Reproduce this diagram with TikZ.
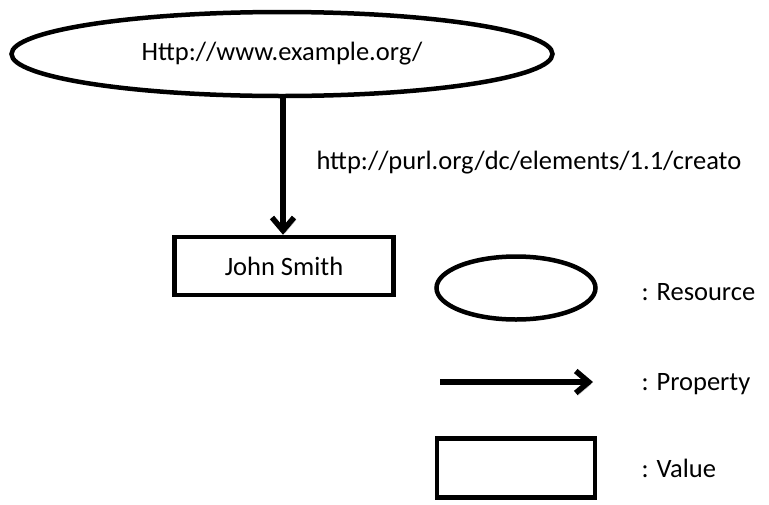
\documentclass[tikz,border=0pt]{standalone}
\usepackage{fontspec}
\setmainfont{Carlito}
\usetikzlibrary{shapes.geometric,arrows.meta,positioning}
\tikzset{
  resource/.style={draw, ellipse, line width=4.5pt, inner sep=0pt},
  valuebox/.style={draw, rectangle, line width=4.5pt, inner sep=0pt},
  prop/.style={line width=5.5pt, -{Straight Barb[length=13pt,width=22pt,line width=5.5pt]},
    preaction={draw=gray!55, transform canvas={shift={(2pt,-2.5pt)}}}},
}
\begin{document}
\begin{tikzpicture}[x=1pt,y=-1pt,font=\fontsize{26.5pt}{30pt}\selectfont]
            \useasboundingbox (0,0) rectangle (769,504);
            % Graph
            \node[resource, minimum width=541pt, minimum height=84pt] (res) at (282,54) {Http://www.example.org/};
            \node[valuebox, minimum width=219pt, minimum height=58pt] (val) at (284,266) {John Smith};
            \draw[prop] (res.south -| 283,0) -- (val.north -| 283,0);
            \node[anchor=west] (creator) at (313,163) {http://purl.org/dc/elements/1.1/creato};
            % Legend
            \node[resource, minimum width=159pt, minimum height=63pt] (keyres) at (516,288) {};
            \coordinate (keya) at (440,382);
            \coordinate (keyb) at (593,382);
            \draw[prop] (keya) -- (keyb);
            \node[valuebox, minimum width=158pt, minimum height=59pt] (keyval) at (516,468) {};
            \foreach \y/\t in {292/Resource, 384/Property, 468/Value} {
                \node[anchor=west] (key\t) at (638,\y) {: \t};
            }
        \end{tikzpicture}
\end{document}
